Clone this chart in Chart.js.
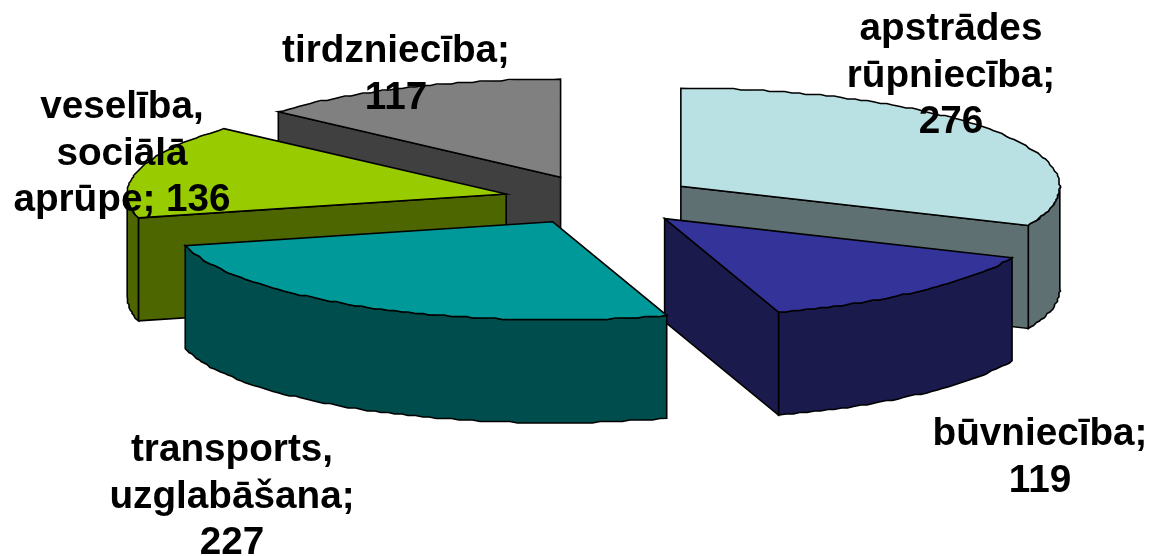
<!DOCTYPE html>
<html>
<head>
<meta charset="utf-8">
<style>html,body{margin:0;padding:0;background:#fff}#wrap{width:1153px;height:556px}canvas{display:block}</style>
<script src="https://cdn.jsdelivr.net/npm/chart.js@4/dist/chart.umd.min.js"></script>
</head>
<body>
<div id="wrap"><canvas id="c" width="1153" height="556"></canvas></div>
<script>
const categories = ['apstrādes rūpniecība', 'būvniecība', 'transports, uzglabāšana', 'veselība, sociālā aprūpe', 'tirdzniecība'];
const values = [276, 119, 227, 136, 117];
const topColors = ['#B9E0E3', '#333399', '#009999', '#99CC00', '#808080'];
const wallColors = ['#5F7072', '#1A1A4D', '#004D4D', '#4D6600', '#404040'];
const labelLines = [
  ['apstrādes', 'rūpniecība;', '276'],
  ['būvniecība;', '119'],
  ['transports,', 'uzglabāšana;', '227'],
  ['veselība,', 'sociālā', 'aprūpe; 136'],
  ['tirdzniecība;', '117']
];
const labelX = [951, 1040, 232, 122, 396];
const labelY = [40, 445, 461, 118, 62];
const lineStep = 46.5;
const wallOrder = [4, 0, 3, 1, 2];

const view = { x: 600, y: 200, rx: 379, ry: 98, depth: 103, explode: 0.255 };

const pie3d = {
  id: 'pie3d',
  beforeDatasetsDraw(chart) {
    const ctx = chart.ctx;
    const arcs = chart.getDatasetMeta(0).data;
    const r = arcs[0].outerRadius;
    const sx = view.rx / r, sy = view.ry / r;

    const apex = (el) => {
      const mid = (el.startAngle + el.endAngle) / 2;
      return [view.x + Math.cos(mid) * view.explode * view.rx, view.y + Math.sin(mid) * view.explode * view.ry];
    };
    // rim of the slice as a slightly stepped polyline, like the coarse vector original
    const rimPts = (p, a0, a1, dz) => {
      const n = Math.max(2, Math.ceil((a1 - a0) / 0.02));
      const pts = [];
      for (let k = 0; k <= n; k++) {
        const a = a0 + (a1 - a0) * k / n;
        let x = p[0] + Math.cos(a) * view.rx, y = p[1] + Math.sin(a) * view.ry + dz;
        if (k > 0 && k < n) { y = Math.round(y / 1.5) * 1.5; x = Math.round(x / 1.5) * 1.5; }
        pts.push([x, y]);
      }
      return pts;
    };
    const style = (fill) => {
      ctx.fillStyle = fill;
      ctx.strokeStyle = '#000';
      ctx.lineWidth = 1.6;
      ctx.lineJoin = 'miter';
      ctx.fill();
      ctx.stroke();
    };
    const radialWall = (el, a, col) => {
      const p = apex(el);
      const q = [p[0] + Math.cos(a) * view.rx, p[1] + Math.sin(a) * view.ry];
      ctx.beginPath();
      ctx.moveTo(p[0], p[1]);
      ctx.lineTo(q[0], q[1]);
      ctx.lineTo(q[0], q[1] + view.depth);
      ctx.lineTo(p[0], p[1] + view.depth);
      ctx.closePath();
      style(col);
    };
    const outerWall = (el, a0, a1, col) => {
      const p = apex(el);
      ctx.beginPath();
      rimPts(p, a0, a1, 0).forEach((q, k) => k ? ctx.lineTo(q[0], q[1]) : ctx.moveTo(q[0], q[1]));
      rimPts(p, a0, a1, view.depth).reverse().forEach((q) => ctx.lineTo(q[0], q[1]));
      ctx.closePath();
      style(col);
    };

    // side walls, back to front
    wallOrder.forEach((i) => {
      const el = arcs[i];
      const s = el.startAngle, e = el.endAngle;
      const a0 = Math.max(s, 0), a1 = Math.min(e, Math.PI);
      if (a1 > a0) outerWall(el, a0, a1, wallColors[i]);
      if (Math.cos(s) < -1e-3) radialWall(el, s, wallColors[i]);
      if (Math.cos(e) > 1e-3) radialWall(el, e, wallColors[i]);
    });

    // top faces: filled by the library's own arc elements, squashed and pulled out
    arcs.forEach((el) => {
      const p = apex(el);
      ctx.save();
      ctx.translate(p[0], p[1]);
      ctx.scale(sx, sy);
      ctx.translate(-el.x, -el.y);
      el.draw(ctx, chart.chartArea);
      ctx.restore();
      ctx.beginPath();
      ctx.moveTo(p[0], p[1]);
      rimPts(p, el.startAngle, el.endAngle, 0).forEach((q) => ctx.lineTo(q[0], q[1]));
      ctx.closePath();
      ctx.strokeStyle = '#000';
      ctx.lineWidth = 1.6;
      ctx.stroke();
    });

    // labels
    ctx.fillStyle = '#000';
    ctx.font = 'bold 38.7px "Liberation Sans", Arial, sans-serif';
    ctx.textAlign = 'center';
    ctx.textBaseline = 'alphabetic';
    labelLines.forEach((lines, i) => {
      lines.forEach((t, j) => ctx.fillText(t, labelX[i], labelY[i] + j * lineStep));
    });
    return false;
  }
};

new Chart(document.getElementById('c'), {
  type: 'pie',
  data: {
    labels: categories,
    datasets: [{
      data: values,
      backgroundColor: topColors,
      borderWidth: 0,
      offset: 0
    }]
  },
  options: {
    responsive: false,
    animation: false,
    layout: { padding: 0 },
    plugins: { legend: { display: false }, tooltip: { enabled: false } }
  },
  plugins: [pie3d]
});
</script>
</body>
</html>
